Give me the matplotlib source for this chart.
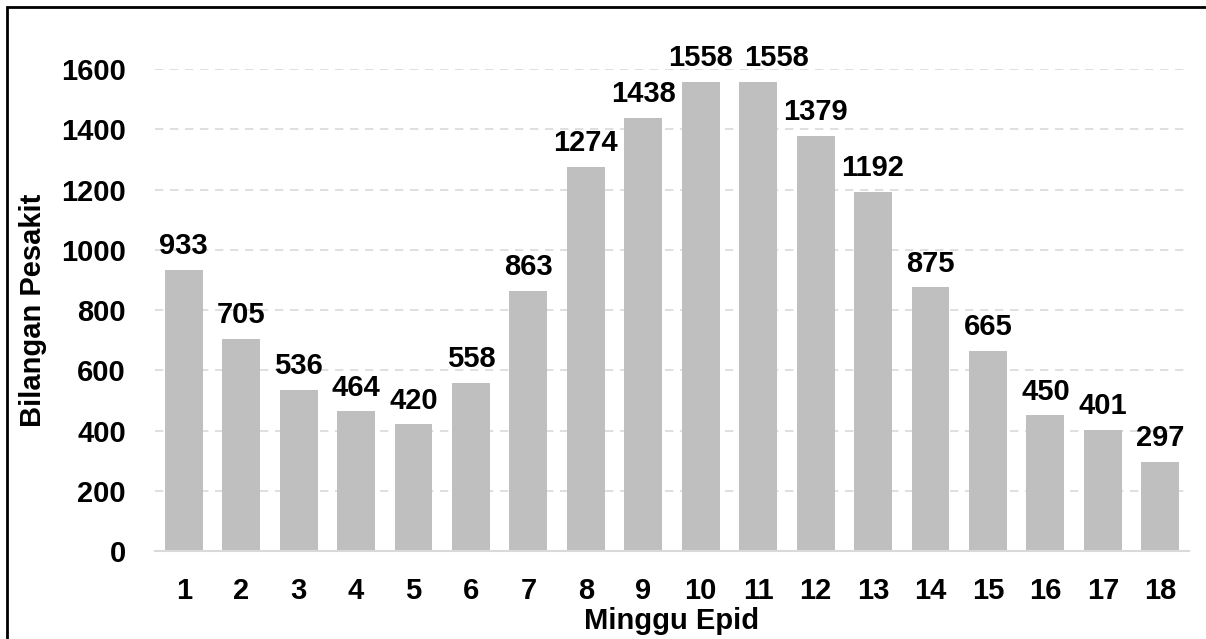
import matplotlib
matplotlib.use("Agg")
import matplotlib.pyplot as plt
from matplotlib.patches import Rectangle

# data
weeks = list(range(1, 19))
patients = [933, 705, 536, 464, 420, 558, 863, 1274, 1438, 1558,
            1558, 1379, 1192, 875, 665, 450, 401, 297]
yticks = [0, 200, 400, 600, 800, 1000, 1200, 1400, 1600]

plt.rcParams['font.family'] = ['Liberation Sans', 'DejaVu Sans']
plt.rcParams['font.weight'] = 'bold'

FS = 21

fig = plt.figure(figsize=(12.06, 6.39), dpi=100)
ax = fig.add_axes([0.1285, 0.1377, 0.8574, 0.7543])

ax.bar(weeks, patients, width=0.66, color='#bfbfbf', zorder=2)
for w, v in zip(weeks, patients):
    dx = 13 if w == 11 else 0   # label nudged right so the two 1558s don't collide
    ax.annotate(str(v), (w, v), xytext=(dx, 7), textcoords='offset points',
                ha='center', va='bottom', fontsize=FS, fontweight='bold',
                annotation_clip=False)

ax.set_xlim(0.5, 18.5)
ax.set_ylim(0, 1600)
ax.set_xticks(weeks)
ax.set_yticks(yticks)
ax.tick_params(axis='both', length=0, labelsize=FS)
ax.tick_params(axis='y', pad=21)
ax.tick_params(axis='x', pad=19)
for lab in ax.get_xticklabels() + ax.get_yticklabels():
    lab.set_fontweight('bold')

ax.yaxis.grid(True, color='#d9d9d9', linestyle=(0, (5, 4)), linewidth=1.2, zorder=0)
ax.set_axisbelow(True)
for s in ['top', 'right', 'left']:
    ax.spines[s].set_visible(False)
ax.spines['bottom'].set_color('#d9d9d9')
ax.spines['bottom'].set_linewidth(1.5)

ax.set_xlabel('Minggu Epid', fontsize=FS, fontweight='bold', labelpad=1)
ax.set_ylabel('Bilangan Pesakit', fontsize=FS, fontweight='bold', labelpad=10)

# outer border: only the left and top edges fall inside the picture
fig.patches.append(Rectangle((7 / 1206, -0.1), 1.2, 1.1 - 7 / 639,
                             transform=fig.transFigure, fill=False,
                             edgecolor='black', linewidth=2, clip_on=False))

fig.savefig('out.png', dpi=100)
